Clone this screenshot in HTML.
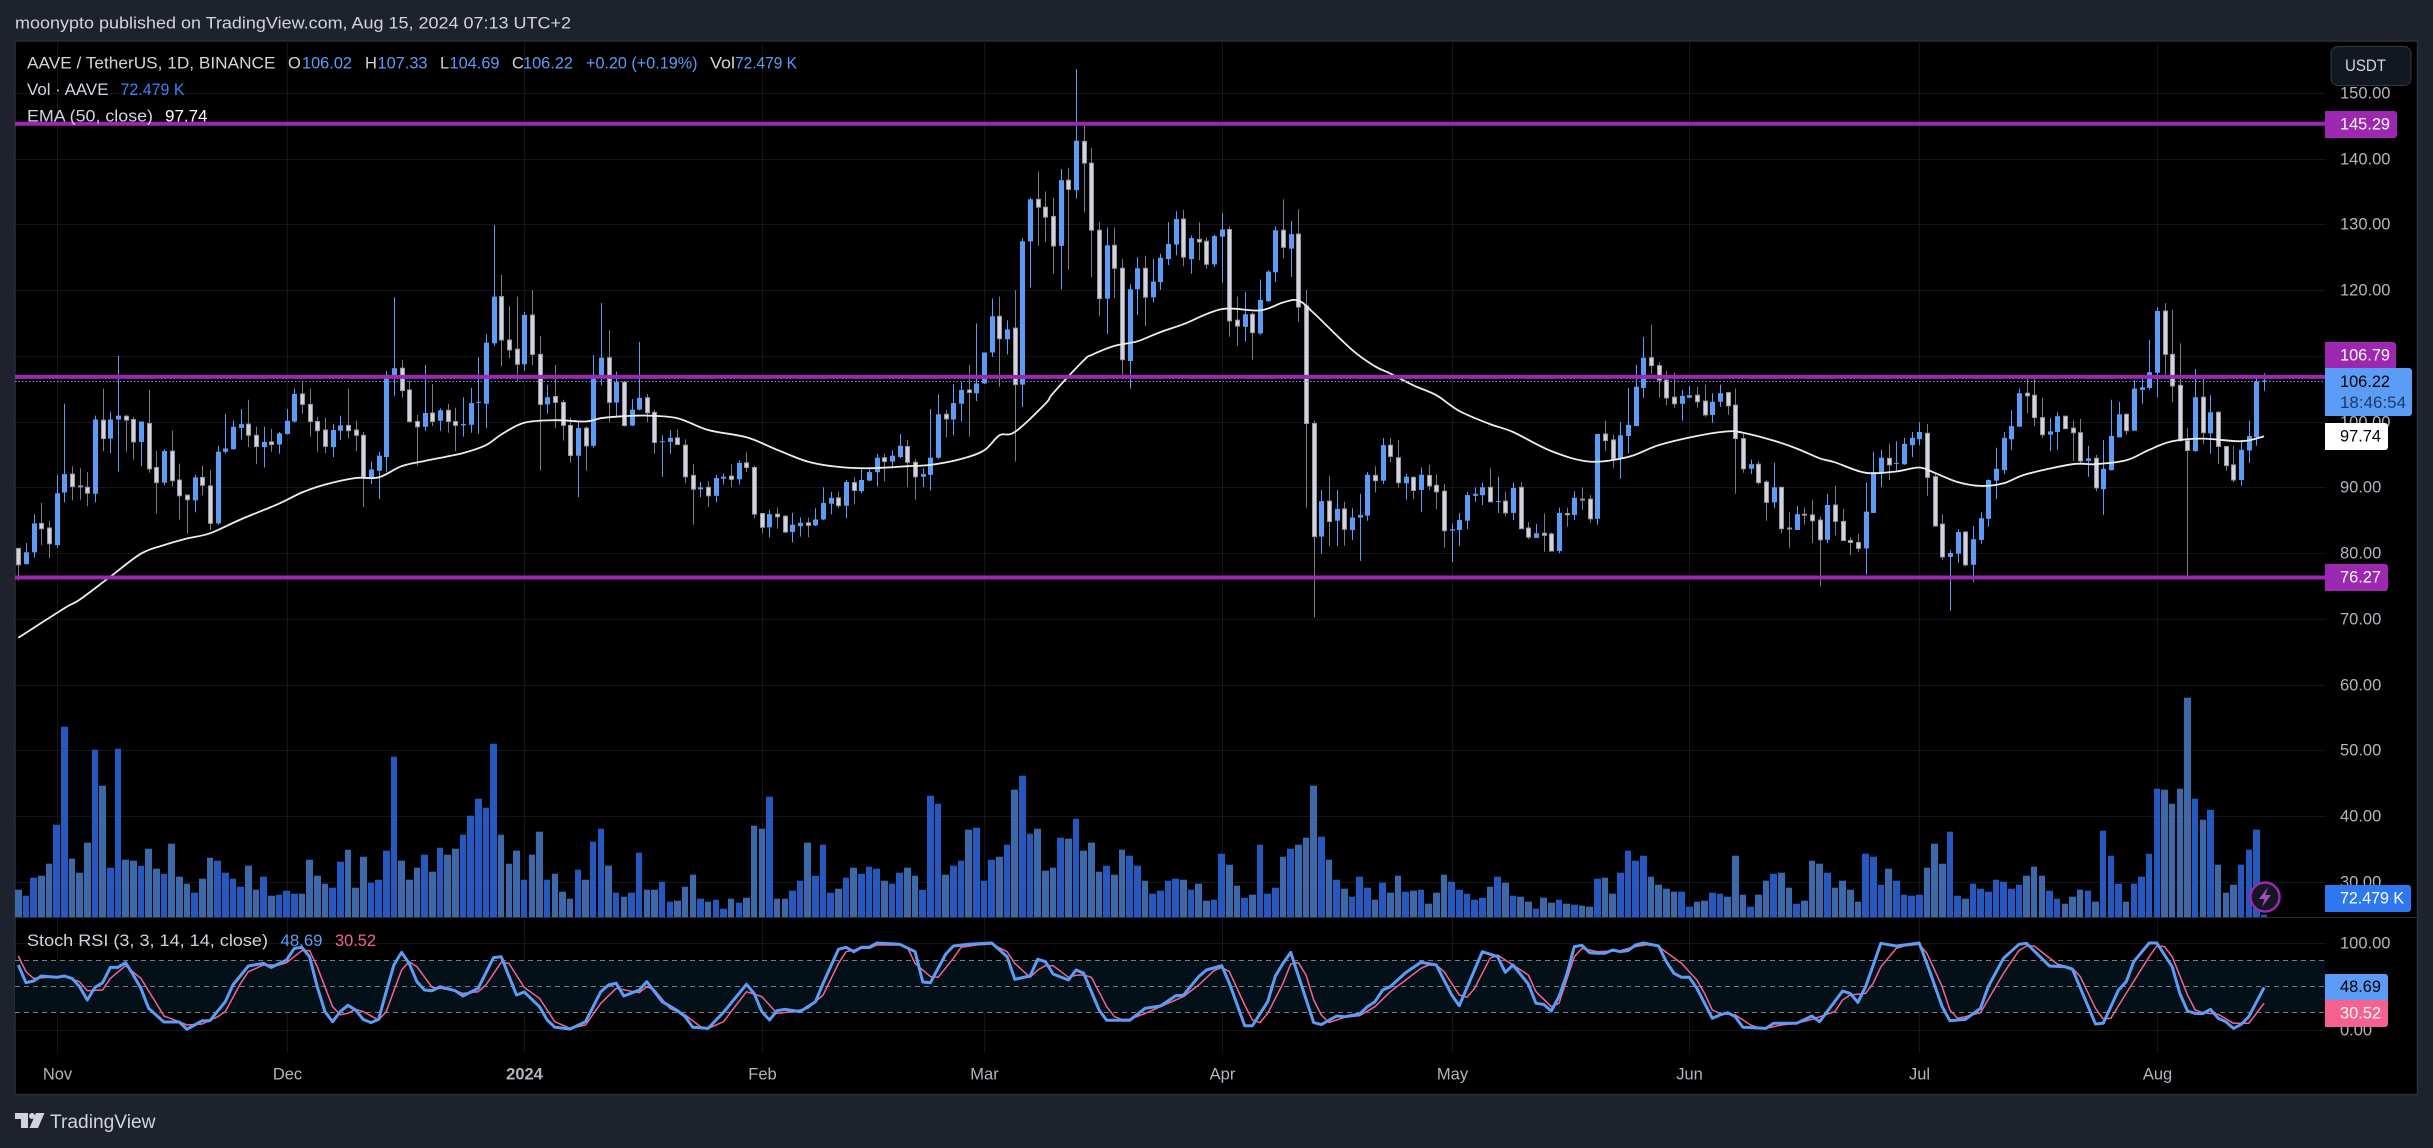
<!DOCTYPE html>
<html lang="en">
<head>
<meta charset="utf-8">
<title>AAVE / TetherUS chart</title>
<style>
html,body{margin:0;padding:0;background:#1e222d;width:2433px;height:1148px;overflow:hidden}
svg{display:block;font-family:"Liberation Sans",sans-serif}
</style>
</head>
<body>
<svg id="chart" xmlns="http://www.w3.org/2000/svg" width="2433" height="1148" viewBox="0 0 2433 1148">
  <rect x="0" y="0" width="2433" height="1148" fill="#1e222d"/>
  <text x="15" y="23" font-size="17" fill="#d1d4dc" dominant-baseline="central" textLength="556" lengthAdjust="spacingAndGlyphs">moonypto published on TradingView.com, Aug 15, 2024 07:13 UTC+2</text>
  <rect x="15" y="41" width="2402.5" height="1053.5" fill="#000000" stroke="#2a2e39" stroke-width="1.5"/>
  <g id="grid-layer"></g>
  <rect x="15" y="960.3" width="2310" height="52" fill="#031018"/>
  <g id="stoch-level-layer"></g>
  <g id="volume-layer"></g>
  <g id="candle-layer"></g>
  <path id="ema-line" fill="none" stroke="#ededed" stroke-width="1.8" stroke-linejoin="round"/>
  <g id="level-layer"></g>
  <polyline id="stoch-d" fill="none" stroke="#f7618f" stroke-width="1.5" stroke-linejoin="round"/>
  <polyline id="stoch-k" fill="none" stroke="#5b9cf6" stroke-width="3" stroke-linejoin="round"/>
  <line x1="15" y1="917.5" x2="2417" y2="917.5" stroke="#2a2e39" stroke-width="1"/>
  <g id="axis-layer"></g>

  <g><path d="M2325 111H2394a3 3 0 0 1 3 3V135a3 3 0 0 1-3 3H2325Z" fill="#9c27b0"/><text x="2340" y="124.5" font-size="16.5" fill="#ffffff" dominant-baseline="central" textLength="50" lengthAdjust="spacingAndGlyphs">145.29</text></g>
  <g><path d="M2325 342H2393a3 3 0 0 1 3 3V368H2325Z" fill="#9c27b0"/><text x="2340" y="355.5" font-size="16.5" fill="#ffffff" dominant-baseline="central" textLength="50" lengthAdjust="spacingAndGlyphs">106.79</text></g>
  <g><path d="M2325 368H2409a3 3 0 0 1 3 3V413a3 3 0 0 1-3 3H2325Z" fill="#5b9cf6"/><text x="2340" y="382" font-size="16.5" fill="#000000" dominant-baseline="central" textLength="50" lengthAdjust="spacingAndGlyphs">106.22</text><text x="2340" y="403" font-size="16.5" fill="#1c3a66" dominant-baseline="central" textLength="66" lengthAdjust="spacingAndGlyphs">18:46:54</text></g>
  <g><path d="M2325 423H2385a3 3 0 0 1 3 3V447a3 3 0 0 1-3 3H2325Z" fill="#ffffff"/><text x="2340" y="436.5" font-size="16.5" fill="#000000" dominant-baseline="central" textLength="41" lengthAdjust="spacingAndGlyphs">97.74</text></g>
  <g><path d="M2325 564H2385a3 3 0 0 1 3 3V588a3 3 0 0 1-3 3H2325Z" fill="#9c27b0"/><text x="2340" y="577.5" font-size="16.5" fill="#ffffff" dominant-baseline="central" textLength="41" lengthAdjust="spacingAndGlyphs">76.27</text></g>
  <g><path d="M2325 885H2408a3 3 0 0 1 3 3V909a3 3 0 0 1-3 3H2325Z" fill="#2f77f0"/><text x="2340" y="898.5" font-size="16.5" fill="#ffffff" dominant-baseline="central" textLength="64" lengthAdjust="spacingAndGlyphs">72.479 K</text></g>
  <g><path d="M2325 974H2385a3 3 0 0 1 3 3V1000H2325Z" fill="#5b9cf6"/><text x="2340" y="987" font-size="16.5" fill="#000000" dominant-baseline="central" textLength="41" lengthAdjust="spacingAndGlyphs">48.69</text></g>
  <g><path d="M2325 1000H2388V1024a3 3 0 0 1-3 3H2325Z" fill="#f7618f"/><text x="2340" y="1013.5" font-size="16.5" fill="#ffffff" dominant-baseline="central" textLength="41" lengthAdjust="spacingAndGlyphs">30.52</text></g>

  <g><rect x="2331" y="46.5" width="80" height="39" rx="7" fill="#131722" stroke="#363a45" stroke-width="1"/><text x="2345" y="66" font-size="16.5" fill="#d1d4dc" dominant-baseline="central" textLength="41" lengthAdjust="spacingAndGlyphs">USDT</text></g>

  <g><circle cx="2265" cy="897" r="14.5" fill="#131722" stroke="#9c27b0" stroke-width="2.5"/><path d="M2268 887L2259 899H2264.5L2262 907L2271 895H2265.5Z" fill="#ab47bc"/></g>

  <g font-size="16.5">
    <text x="27" y="63.5" fill="#d1d4dc" dominant-baseline="central" textLength="248.5" lengthAdjust="spacingAndGlyphs">AAVE / TetherUS, 1D, BINANCE</text>
    <text x="288" y="63.5" fill="#d1d4dc" dominant-baseline="central">O</text>
    <text x="302" y="63.5" fill="#5b9cf6" dominant-baseline="central" textLength="50" lengthAdjust="spacingAndGlyphs">106.02</text>
    <text x="365" y="63.5" fill="#d1d4dc" dominant-baseline="central">H</text>
    <text x="377.5" y="63.5" fill="#5b9cf6" dominant-baseline="central" textLength="50" lengthAdjust="spacingAndGlyphs">107.33</text>
    <text x="440" y="63.5" fill="#d1d4dc" dominant-baseline="central">L</text>
    <text x="449.5" y="63.5" fill="#5b9cf6" dominant-baseline="central" textLength="50" lengthAdjust="spacingAndGlyphs">104.69</text>
    <text x="512" y="63.5" fill="#d1d4dc" dominant-baseline="central">C</text>
    <text x="523" y="63.5" fill="#5b9cf6" dominant-baseline="central" textLength="50" lengthAdjust="spacingAndGlyphs">106.22</text>
    <text x="586" y="63.5" fill="#5b9cf6" dominant-baseline="central" textLength="111.5" lengthAdjust="spacingAndGlyphs">+0.20 (+0.19%)</text>
    <text x="710" y="63.5" fill="#d1d4dc" dominant-baseline="central" textLength="25" lengthAdjust="spacingAndGlyphs">Vol</text>
    <text x="735" y="63.5" fill="#5b9cf6" dominant-baseline="central" textLength="62" lengthAdjust="spacingAndGlyphs">72.479 K</text>
    <text x="27" y="90" fill="#d1d4dc" dominant-baseline="central" textLength="81.5" lengthAdjust="spacingAndGlyphs">Vol · AAVE</text>
    <text x="120.5" y="90" fill="#3b82f6" dominant-baseline="central" textLength="64" lengthAdjust="spacingAndGlyphs">72.479 K</text>
    <text x="27" y="116.5" fill="#d1d4dc" dominant-baseline="central" textLength="126" lengthAdjust="spacingAndGlyphs">EMA (50, close)</text>
    <text x="165" y="116.5" fill="#ffffff" dominant-baseline="central" textLength="42.5" lengthAdjust="spacingAndGlyphs">97.74</text>
    <text x="27" y="941" fill="#d1d4dc" dominant-baseline="central" textLength="241" lengthAdjust="spacingAndGlyphs">Stoch RSI (3, 3, 14, 14, close)</text>
    <text x="280.5" y="941" fill="#5b9cf6" dominant-baseline="central" textLength="42" lengthAdjust="spacingAndGlyphs">48.69</text>
    <text x="335" y="941" fill="#f7618f" dominant-baseline="central" textLength="41" lengthAdjust="spacingAndGlyphs">30.52</text>
  </g>

  <g>
    <path d="M15 1113H28V1128H21V1119H15Z" fill="#d1d4dc"/>
    <circle cx="32" cy="1116" r="3" fill="#d1d4dc"/>
    <path d="M36 1113H44.5L38 1128H29.5Z" fill="#d1d4dc"/>
    <text x="50" y="1122.5" font-size="19" fill="#d1d4dc" dominant-baseline="central" textLength="105.5" lengthAdjust="spacingAndGlyphs">TradingView</text>
  </g>
</svg>
<script>
const opens = [
80.7,78.3,80.1,84.5,83.8,81.2,89.2,92.0,90.2,90.0,
89.0,100.2,97.4,100.3,100.8,100.3,96.9,99.7,93.0,90.7,
95.5,91.1,88.8,88.0,91.5,90.2,84.5,95.4,95.8,99.0,
99.6,97.9,96.1,96.9,96.5,98.1,100.0,104.2,102.6,100.0,
98.7,96.1,98.6,99.4,98.7,97.9,91.4,92.5,94.6,106.9,
108.1,104.8,100.0,99.2,101.3,100.1,101.7,100.0,99.4,99.5,
102.9,102.7,111.9,119.0,112.4,111.0,108.7,116.2,110.2,102.6,
103.8,102.9,99.4,94.8,99.0,96.3,106.8,109.7,102.9,106.0,
99.4,101.8,103.6,101.4,96.9,96.9,97.5,96.4,91.8,89.7,
90.0,88.7,91.3,91.7,91.2,93.7,93.0,86.0,83.9,85.9,
85.6,83.2,84.1,84.6,84.2,85.1,87.5,88.4,87.2,90.7,
89.4,91.0,92.3,94.5,93.9,94.6,96.2,93.8,91.6,91.9,
94.5,101.1,100.3,102.7,104.8,104.3,105.8,110.5,116.0,112.5,
114.2,105.6,127.4,133.8,132.6,131.2,126.7,136.7,135.2,142.6,
139.3,129.1,118.7,126.8,123.3,109.2,120.1,123.3,118.9,121.2,
124.7,126.9,130.8,124.7,127.7,127.4,123.9,128.1,129.2,115.4,
114.4,116.3,113.4,118.3,122.7,129.1,126.3,128.5,117.6,99.7,
82.5,87.9,84.9,86.7,83.5,85.4,85.7,91.8,91.0,96.4,
94.5,90.6,91.5,89.6,91.8,90.3,89.4,83.4,83.5,84.9,
88.7,88.8,90.0,87.8,87.9,86.1,90.0,83.8,82.3,83.0,
82.9,80.3,86.0,85.8,88.2,88.2,85.2,98.1,97.2,94.3,
97.8,99.3,105.1,109.7,108.5,106.3,103.7,102.7,103.6,104.0,
103.1,101.0,103.0,104.4,102.5,97.4,92.8,93.5,90.8,87.7,
90.0,83.8,83.5,85.9,85.8,85.0,82.0,87.3,84.8,81.9,
81.6,80.7,86.1,92.1,94.4,93.6,93.5,96.4,97.3,98.2,
91.6,84.4,79.4,79.9,83.2,78.2,82.0,85.2,91.0,92.6,
97.3,99.2,104.3,104.0,100.6,98.0,98.4,100.8,99.0,98.3,
94.0,94.4,89.7,92.6,97.6,101.1,98.6,104.8,105.1,107.4,
116.8,110.2,105.5,97.1,95.5,103.7,98.2,101.4,96.2,93.4,
91.1,95.6,97.6,106.02];
const highs = [
80.7,81.5,85.9,87.6,84.9,91.9,102.7,93.2,92.9,92.3,
100.9,105.0,101.5,110.0,101.0,100.7,100.0,104.8,95.5,95.8,
98.6,93.6,88.9,91.9,93.3,92.6,96.3,101.2,100.1,101.9,
103.3,99.2,99.2,98.9,98.4,101.9,105.0,106.0,105.0,100.7,
100.6,99.6,100.9,105.0,100.1,98.4,93.9,95.4,107.7,118.9,
109.4,106.2,101.0,108.6,105.7,102.0,102.7,102.1,103.7,105.1,
109.8,113.3,129.9,122.3,117.5,119.0,116.7,120.0,113.0,105.6,
108.6,103.3,100.6,100.1,99.3,110.1,118.0,113.9,107.6,106.2,
103.4,112.1,104.2,101.8,97.9,98.7,98.8,97.3,93.5,90.8,
90.9,91.9,92.1,93.5,94.1,95.3,93.3,86.1,86.6,86.9,
85.8,86.1,85.4,85.4,86.8,90.0,89.3,89.3,91.1,91.5,
92.9,93.0,95.1,95.1,95.6,98.1,97.2,94.3,92.9,101.9,
104.1,101.7,105.7,106.0,108.6,114.9,110.5,118.7,119.0,115.4,
120.0,127.9,134.0,138.0,135.0,134.0,138.4,138.6,153.6,145.6,
141.6,130.3,129.5,129.5,124.7,120.9,125.0,125.2,124.7,125.5,
130.3,132.0,132.2,128.3,130.3,128.0,128.4,131.7,129.7,119.0,
119.7,116.6,121.6,123.0,129.7,133.8,130.5,132.3,120.0,100.1,
89.6,91.7,89.6,87.8,86.8,89.0,92.3,93.2,97.5,97.5,
97.2,92.0,91.7,93.0,93.4,91.9,90.5,84.5,86.1,89.3,
90.0,90.7,92.9,91.6,89.3,90.7,90.8,84.7,84.4,86.0,
83.1,86.9,86.9,89.4,90.0,88.8,98.1,100.1,98.0,99.9,
105.1,108.6,112.9,114.7,109.0,107.7,107.4,104.8,105.4,105.3,
105.6,104.3,105.6,104.5,105.0,98.1,94.2,94.0,91.1,93.7,
90.0,86.2,87.2,86.9,88.1,85.6,89.0,90.2,86.7,82.4,
82.9,90.7,95.4,95.7,96.6,97.0,97.5,98.4,99.9,99.6,
92.0,85.9,80.4,83.6,83.3,84.1,86.2,91.2,96.0,98.4,
101.7,105.0,106.8,106.8,103.6,100.5,101.4,100.9,100.2,100.4,
96.3,94.9,97.2,103.3,103.0,101.2,106.3,106.6,112.4,117.4,
118.0,117.0,111.9,99.0,108.0,106.6,104.0,101.6,96.3,96.3,
97.2,100.1,106.8,107.33];
const lows = [
75.8,78.2,79.3,81.2,79.2,80.8,87.7,88.0,88.1,87.1,
87.7,95.5,95.2,92.4,95.4,94.2,93.2,92.2,86.0,90.3,
90.1,85.1,83.0,86.2,88.8,83.5,84.3,95.1,95.7,97.2,
96.1,93.5,93.0,95.4,95.1,98.0,99.8,101.2,97.7,95.4,
95.2,94.6,97.2,97.4,95.5,87.0,90.5,88.2,92.3,103.9,
103.6,99.8,93.3,98.6,99.3,98.6,98.3,95.5,97.7,98.3,
98.1,99.0,111.5,108.4,109.6,106.1,107.7,108.6,92.5,101.2,
99.0,97.1,93.7,88.5,92.5,96.0,105.5,99.9,100.8,99.2,
99.3,101.7,99.9,95.1,91.6,95.1,96.5,90.6,84.3,88.5,
87.0,87.7,90.4,90.0,90.4,92.3,85.3,83.0,82.4,83.7,
83.0,81.6,82.5,82.4,84.1,85.0,85.9,86.8,85.3,87.4,
89.1,90.9,90.1,90.9,92.8,94.4,90.0,88.1,90.0,89.5,
94.3,97.6,97.9,100.0,97.7,103.1,105.7,109.8,105.3,110.2,
93.9,102.2,120.4,126.7,127.3,122.5,120.1,123.1,133.9,131.8,
122.0,116.0,113.3,118.8,107.1,105.0,116.2,114.5,118.1,120.0,
123.8,125.3,123.6,122.5,124.5,123.2,123.5,121.1,112.9,111.5,
112.2,109.4,113.2,118.2,121.2,124.8,122.0,115.2,86.9,70.2,
79.9,81.0,81.0,81.1,82.0,78.8,84.9,89.2,90.5,93.8,
89.9,88.1,88.2,86.2,89.6,86.7,80.8,78.6,81.1,83.6,
87.8,87.3,87.8,86.1,85.6,85.0,83.7,82.1,82.3,80.2,
80.2,80.0,84.0,85.0,86.5,84.6,84.3,95.5,92.9,91.3,
95.2,99.3,103.6,107.2,103.7,102.5,102.1,100.1,103.6,102.1,
100.7,99.8,102.2,101.0,89.0,92.2,92.0,90.4,84.9,86.8,
83.0,80.8,83.5,84.3,81.5,74.9,81.5,82.7,81.8,79.7,
80.2,76.7,86.1,90.0,91.1,92.6,93.4,94.6,96.4,88.7,
84.0,78.9,71.2,78.5,78.0,75.6,81.4,84.0,88.2,92.0,
95.7,99.2,101.3,99.3,97.5,95.5,95.7,98.9,94.0,93.6,
91.6,89.4,85.8,92.6,97.6,98.0,98.6,102.7,104.8,103.7,
107.1,103.0,96.9,76.2,95.4,96.6,95.1,93.5,92.5,90.8,
90.2,93.7,96.3,104.69];
const closes = [
78.2,80.1,84.5,83.7,81.4,89.1,92.0,90.1,90.1,89.1,
100.3,97.4,100.3,100.9,100.2,96.9,100.0,92.8,90.7,95.5,
91.0,88.7,88.1,91.5,90.3,84.5,95.4,95.9,99.2,99.6,
97.9,96.2,96.9,96.5,98.2,100.1,104.2,102.6,100.0,98.6,
96.2,98.7,99.4,98.6,97.9,91.6,92.7,94.8,107.1,108.1,
104.7,100.0,99.2,101.3,100.0,101.7,100.0,99.4,99.6,102.8,
103.0,112.0,119.0,112.4,110.9,108.7,116.2,110.2,102.6,103.7,
102.9,99.4,94.8,99.0,96.3,107.1,109.7,102.9,106.0,99.4,
101.8,103.6,101.3,96.8,97.0,97.5,96.5,91.6,89.7,90.0,
88.7,91.4,91.6,91.2,93.7,93.0,85.9,83.9,85.9,85.5,
83.2,84.3,84.6,84.2,85.1,87.6,88.4,87.2,90.8,89.5,
91.1,92.3,94.5,93.9,94.8,96.3,93.8,91.6,92.0,94.5,
101.1,100.4,102.8,104.8,104.4,105.8,110.5,116.0,112.6,114.0,
105.6,127.4,133.8,132.6,131.1,126.7,136.7,135.3,142.7,139.3,
129.1,118.7,126.8,123.3,109.4,120.1,123.3,118.9,121.3,124.9,
127.0,130.8,125.0,127.9,127.3,123.9,128.2,129.2,115.3,114.5,
116.3,113.5,118.5,122.8,129.1,126.5,128.5,117.4,99.7,82.5,
87.9,84.8,86.7,83.6,85.4,85.8,91.9,91.0,96.4,94.7,
90.7,91.6,89.5,91.9,90.2,89.3,83.4,83.6,85.0,88.8,
89.0,90.0,87.8,87.9,86.1,89.9,83.7,82.4,83.0,82.7,
80.3,86.1,85.8,88.4,88.1,85.2,98.1,97.1,94.3,97.9,
99.5,105.3,109.7,108.5,106.3,103.6,102.7,103.9,104.0,103.0,
101.0,103.0,104.3,102.4,97.4,92.8,93.5,90.7,87.7,90.0,
83.7,83.7,85.9,85.8,84.9,82.0,87.3,84.8,81.9,81.6,
80.7,86.3,92.3,94.5,93.4,93.7,96.6,97.5,98.4,91.5,
84.1,79.4,80.0,83.2,78.2,82.1,85.3,91.1,92.8,97.5,
99.3,104.3,103.9,100.6,98.0,98.5,100.8,98.9,98.3,94.0,
94.4,89.9,92.8,97.8,101.1,98.6,105.0,105.2,107.5,116.8,
110.2,105.4,97.1,95.6,103.7,98.3,101.4,96.2,93.3,91.1,
95.7,97.8,106.1,106.22];
const volumes = [
820,640,1180,1240,1600,2770,5710,1750,1330,2230,
5020,3940,1480,5050,1720,1690,1540,2050,1450,1300,
2200,1210,1000,730,1150,1780,1690,1330,1150,910,
1540,820,1210,640,670,790,700,700,1720,1240,
1000,880,1660,2020,880,1810,1030,1120,1990,4810,
1690,1120,1480,1870,1360,2080,1870,2050,2470,3040,
3550,3280,5200,2470,1600,1990,1120,1870,2560,1120,
1300,760,550,1420,1120,2260,2650,1540,730,610,
730,1930,820,820,1060,460,490,910,1270,550,
460,520,250,550,430,580,2740,2650,3610,550,
550,790,1090,2230,1240,2170,730,850,1180,1480,
1300,1510,1450,1090,1000,1330,1480,1240,820,3640,
3400,1270,1540,1690,2620,2680,1090,1720,1810,2170,
3820,4240,2500,2650,1390,1480,2380,2350,2950,1990,
2230,1360,1540,1270,2020,1840,1540,1090,700,790,
1090,1150,1120,820,1000,490,520,1900,1570,940,
580,670,2170,700,880,1810,2050,2170,2380,3940,
2410,1720,1120,850,610,1210,880,520,1030,730,
1240,760,790,820,400,730,1270,1060,820,700,
520,580,910,1210,1030,640,610,460,250,580,
430,520,400,370,340,310,1150,1180,700,1330,
1990,1690,1840,1210,970,850,760,760,310,460,
490,730,700,610,1840,670,310,670,1090,1300,
1330,880,400,490,1690,1600,1330,880,1090,820,
460,1900,1810,970,1450,1090,670,640,670,1480,
2200,1600,2560,640,550,1000,850,760,1120,1060,
850,970,1240,1510,1240,790,550,400,610,820,
790,460,2590,1840,1000,460,1000,1210,1900,3850,
3820,3400,3850,6580,3550,2920,3220,1570,730,970,
1570,2020,2620,72.479];
const emaBars = [
0,6,8,12,16,19,22,25,29,34,
37,40,44,47,50,53,58,61,63,66,
70,74,76,79,82,86,90,95,99,103,
107,111,116,119,123,126,128,130,134,135,
139,140,143,146,149,152,157,162,165,167,
169,174,177,179,182,185,188,192,195,200,
205,210,214,219,223,225,229,232,235,237,
241,245,248,250,253,256,259,262,268,271,
275,278,281,285,290,293];
const emaValues = [
67.1,71.6,72.9,76.4,79.9,81.2,82.2,83.0,85.1,87.5,
89.2,90.4,91.4,91.5,93.2,94.0,95.2,96.4,98.0,99.8,
100.2,100.0,100.5,100.8,100.9,100.5,98.7,97.6,95.7,93.9,
93.1,92.9,93.2,93.4,94.3,95.6,97.9,98.4,102.7,104.3,
109.3,110.1,111.5,112.2,113.6,114.8,117.1,116.9,118.1,118.4,
116.5,110.9,108.4,107.3,105.5,104.0,101.6,99.6,98.4,95.5,
93.9,94.6,96.4,97.8,98.5,98.3,97.1,95.9,94.4,93.8,
92.2,92.4,93.0,92.2,90.8,90.2,90.6,92.0,93.5,93.5,
94.1,95.7,97.0,97.4,97.0,97.74];
const kBars = [
0,1,2,3,5,6,7,8,9,10,
11,12,13,14,15,16,17,19,21,22,
24,25,27,28,30,32,33,35,36,37,
38,39,40,41,42,43,44,45,46,47,
48,49,50,51,52,53,54,55,57,58,
60,62,63,65,66,68,69,70,72,74,
76,77,78,79,81,82,84,86,87,88,
90,92,95,96,97,98,99,100,102,104,
105,107,108,109,110,111,112,115,117,118,
119,121,122,124,127,129,130,132,133,134,
135,137,138,139,141,142,145,147,149,151,
152,154,155,157,158,160,161,163,164,165,
166,169,170,172,173,175,176,177,178,179,
181,183,185,187,188,191,193,194,195,197,
198,199,200,201,202,203,204,205,206,207,
208,209,210,211,212,214,215,216,217,218,
219,221,222,223,224,225,228,229,232,234,
235,238,239,240,241,243,245,248,249,251,
252,254,256,257,259,261,262,265,267,268,
271,272,274,275,276,278,279,281,282,283,
284,285,286,287,288,289,290,291,293];
const kValues = [
74.6,54.2,56.2,61.9,60.4,61.9,59.2,49.6,34.2,48.8,
54.2,71.9,71.9,77.3,63.1,47.7,24.6,8.8,8.8,0.4,
10.4,10.4,32.3,51.5,73.5,76.5,71.9,80.4,93.8,95,
84.2,49.6,20.8,9.2,20.8,28.1,22.7,11.9,8.1,11.9,
43.8,74.6,89.2,76.5,55.4,45.8,45,49.6,45,38.8,
47.7,83.1,84.2,40,43.5,26.5,11.2,2.7,0.8,9.2,
43.8,51.5,53.5,38.8,45.8,55.4,32.3,21.9,15,2.7,
1.5,20,52.3,41.9,20.8,11.2,21.9,23.5,20.8,32.3,
53.5,92.7,95,90,95,95,100,98.5,90,55,
54.2,87.3,96.5,98.5,100,84.2,58.1,61.9,81.2,78.5,
64.2,57.3,68.8,65,22.7,10.8,10.8,24.6,27.3,39.2,
39.6,61.2,68.8,73.8,53.5,4.6,4.6,32.3,61.9,76.5,
89.2,8.1,5.8,15.8,15,18.1,26.5,32.3,45.8,49.6,
65.8,77.7,74.6,40,27.7,90,84.2,66.2,74.6,52.7,
30.4,29.2,21.5,38.1,63.1,95.8,97.3,88.8,88.1,88.1,
91.9,90,91.2,97.7,100,96.5,78.5,65,60.4,60.4,
47.7,13.1,16.9,19.6,15,2.7,1.5,7.3,7.3,15.8,
9.2,44.6,41.9,31.5,49.6,99.6,96.5,100,76.5,26.5,
10.4,11.9,24.6,49.6,82.3,98.5,99.6,73.5,72.7,69.6,
6.5,7.3,45.8,55.4,78.5,100,100,72.7,41.9,21.5,
18.8,18.5,23.5,13.1,9.2,1.5,6.2,15,48.69];
const dBars = [
0,1,2,4,6,8,9,11,12,14,
16,18,19,21,22,24,26,27,29,30,
32,34,35,37,38,39,41,42,43,44,
45,47,48,50,51,52,54,55,57,58,
60,61,63,64,66,68,70,72,74,76,
78,81,82,83,85,87,89,90,92,94,
95,97,99,101,103,105,107,108,110,111,
112,115,116,117,119,120,122,123,125,127,
129,130,132,133,134,135,137,138,139,140,
142,143,144,145,147,149,152,154,156,157,
158,160,161,162,163,165,166,167,168,169,
170,171,173,175,177,179,181,183,184,185,
186,188,189,190,192,193,195,197,198,200,
201,203,204,205,206,209,211,213,214,217,
218,219,220,221,222,224,226,227,228,230,
232,234,237,238,239,241,242,243,245,246,
248,249,251,252,253,254,256,259,261,262,
263,266,268,269,271,272,273,275,278,279,
280,281,283,284,285,287,289,291,293];
const dValues = [
85,66.9,59.2,60.4,61.2,55.4,45,45.8,59.2,73.8,
59.2,30.4,15.8,9.2,5.4,6.5,15,20.8,53.5,66.9,
74.6,74.6,77.3,91.2,91.2,72.7,26.5,17.3,18.8,23.5,
20.8,11.2,20.8,68.8,78.5,72.7,48.8,47.7,45,41.9,
43.8,51.5,77.7,76.5,48.8,36.2,9.2,1.5,5.4,30.4,
47.7,42.7,49.6,45.8,24.6,16.9,3.5,1.5,9.2,32.3,
43.8,38.1,18.8,20.8,24.6,40,76.5,90,93.8,93.8,
97.7,97.7,95,76.5,61.2,60.4,82.3,95,97.7,98.8,
90,76.5,60.4,68.8,73.8,73.8,60.4,62.7,63.1,60.4,
26.5,15,11.9,11.9,18.8,26.5,38.1,51.5,68.1,71.9,
66.9,28.5,11.2,8.1,18.8,53.5,75.8,77.3,63.1,34.2,
16.9,8.1,14.2,16.2,26.5,43.8,57.3,70.8,74.6,74.6,
66.9,40,37.3,47.7,82.3,86.2,74.6,63.1,43.8,26.5,
30.4,84.2,93.8,91.9,90,91.2,95.8,98.8,95.8,76.5,
66.9,57.3,41.9,22.7,18.8,16.9,5.4,2.3,1.5,5.4,
7.3,11.9,20.8,34.2,40,41.9,53.5,72.7,93.8,96.5,
98.5,88.1,49.6,22.7,13.1,15,19.6,65,91.2,96.5,
96.5,75.8,70.8,61.2,24.6,12.3,13.1,41.9,84.2,96.5,
95.8,84.2,40,22.7,19.6,17.7,7.3,7.3,30.52];
const levelPrices = [145.29, 106.79, 76.27];
const lastPrice = 106.22;
const priceTicks = [150,140,130,120,110,100,90,80,70,60,50,40,30];
const stochTicks = [100,0];
const stochLevels = [80,50,20];
const monthLabels = ["Nov","Dec","2024","Feb","Mar","Apr","May","Jun","Jul","Aug"];
const monthBars = [5,35,66,97,126,157,187,218,248,279];

const NS = "http://www.w3.org/2000/svg";
const xBar = i => 18.3 + 7.665 * i;
const yPrice = p => 290 + (120 - p) * 6.575;
const yVolume = v => 917 - v / 30;
const yStoch = s => 1029.67 - s * 0.8667;

function mk(tag, parent) {
  const node = document.createElementNS(NS, tag);
  parent.appendChild(node);
  return node;
}
function pts(bars, values, yFn) {
  return bars.map((b, i) => xBar(b).toFixed(1) + "," + yFn(values[i]).toFixed(1)).join(" ");
}
function smoothPath(bars, values, yFn) {
  const p = bars.map((b, i) => [xBar(b), yFn(values[i])]);
  let d = "M" + p[0][0].toFixed(1) + " " + p[0][1].toFixed(1);
  for (let i = 0; i < p.length - 1; i++) {
    const a = p[Math.max(i - 1, 0)], b = p[i], c = p[i + 1], e = p[Math.min(i + 2, p.length - 1)];
    const c1x = b[0] + (c[0] - a[0]) / 6, c1y = b[1] + (c[1] - a[1]) / 6;
    const c2x = c[0] - (e[0] - b[0]) / 6, c2y = c[1] - (e[1] - b[1]) / 6;
    d += "C" + c1x.toFixed(1) + " " + c1y.toFixed(1) + " " + c2x.toFixed(1) + " " + c2y.toFixed(1) + " " + c[0].toFixed(1) + " " + c[1].toFixed(1);
  }
  return d;
}

const gridLayer = document.getElementById("grid-layer");
const axisLayer = document.getElementById("axis-layer");
const GRID = "#14161a";

priceTicks.forEach(t => {
  const y = Math.round(yPrice(t)) + 0.5;
  const el = mk("line", gridLayer);
  
  
  el.setAttribute("x1", 15); el.setAttribute("x2", 2325);
  el.setAttribute("y1", y); el.setAttribute("y2", y);
  el.setAttribute("stroke", GRID);
  const lab = mk("text", axisLayer);
  
  
  lab.setAttribute("x", 2340); lab.setAttribute("y", y);
  lab.setAttribute("font-size", "16.5");
  lab.setAttribute("fill", "#b2b5be");
  lab.setAttribute("dominant-baseline", "central");
  lab.textContent = t.toFixed(2);
});
stochTicks.forEach(t => {
  const y = Math.round(yStoch(t)) + 0.5;
  const el = mk("line", gridLayer);
  
  
  el.setAttribute("x1", 15); el.setAttribute("x2", 2325);
  el.setAttribute("y1", y); el.setAttribute("y2", y);
  el.setAttribute("stroke", GRID);
  const lab = mk("text", axisLayer);
  
  
  lab.setAttribute("x", 2340); lab.setAttribute("y", y);
  lab.setAttribute("font-size", "16.5");
  lab.setAttribute("fill", "#b2b5be");
  lab.setAttribute("dominant-baseline", "central");
  lab.textContent = t.toFixed(2);
});
monthBars.forEach((b, i) => {
  const x = Math.round(xBar(b)) + 0.5;
  const el = mk("line", gridLayer);
  
  
  el.setAttribute("x1", x); el.setAttribute("x2", x);
  el.setAttribute("y1", 41); el.setAttribute("y2", 1053);
  el.setAttribute("stroke", GRID);
  const lab = mk("text", axisLayer);
  
  
  lab.setAttribute("x", x); lab.setAttribute("y", 1074.5);
  lab.setAttribute("font-size", "16.5");
  lab.setAttribute("text-anchor", "middle");
  lab.setAttribute("fill", "#b2b5be");
  lab.setAttribute("dominant-baseline", "central");
  if (monthLabels[i] === "2024") lab.setAttribute("font-weight", "bold");
  lab.textContent = monthLabels[i];
});

const stochLevelLayer = document.getElementById("stoch-level-layer");
stochLevels.forEach(s => {
  const el = mk("line", stochLevelLayer);
  
  
  const y = Math.round(yStoch(s)) + 0.5;
  el.setAttribute("x1", 15); el.setAttribute("x2", 2325);
  el.setAttribute("y1", y); el.setAttribute("y2", y);
  el.setAttribute("stroke", "#787b86");
  el.setAttribute("stroke-dasharray", "5 4");
});

const volumeLayer = document.getElementById("volume-layer");
volumes.forEach((v, i) => {
  const up = closes[i] >= opens[i];
  const el = mk("rect", volumeLayer);
  
  
  const top = yVolume(v);
  const xc = xBar(i);
  const left = Math.round(xc - 3.3);
  el.setAttribute("x", left);
  el.setAttribute("y", top.toFixed(1));
  el.setAttribute("width", Math.round(xc + 3.3) - left);
  el.setAttribute("height", (917 - top).toFixed(1));
  el.setAttribute("fill", up ? "#2559bd" : "#3c69aa");
});

const candleLayer = document.getElementById("candle-layer");
opens.forEach((o, i) => {
  const c = closes[i];
  const up = c >= o;
  const rx = Math.round(xBar(i));
  const wick = mk("line", candleLayer);
  
  
  wick.setAttribute("x1", rx + 0.5); wick.setAttribute("x2", rx + 0.5);
  wick.setAttribute("y1", yPrice(highs[i]).toFixed(1));
  wick.setAttribute("y2", yPrice(lows[i]).toFixed(1));
  wick.setAttribute("stroke", up ? "#5b9cf6" : "#787b86");
  const body = mk("rect", candleLayer);
  
  
  const t = yPrice(Math.max(o, c));
  const h = Math.max(yPrice(Math.min(o, c)) - t, 1);
  if (up) {
    body.setAttribute("x", rx - 2);
    body.setAttribute("width", 5);
    body.setAttribute("y", t.toFixed(1));
    body.setAttribute("height", h.toFixed(1));
    body.setAttribute("fill", "#5b9cf6");
  } else {
    body.setAttribute("x", rx - 1.5);
    body.setAttribute("width", 4);
    body.setAttribute("y", t.toFixed(1));
    body.setAttribute("height", h.toFixed(1));
    body.setAttribute("fill", "#d1d4dc");
    body.setAttribute("stroke", "#9598a1");
  }
});

document.getElementById("ema-line").setAttribute("d", smoothPath(emaBars, emaValues, yPrice));
document.getElementById("stoch-k").setAttribute("points", pts(kBars, kValues, yStoch));
document.getElementById("stoch-d").setAttribute("points", pts(dBars, dValues, yStoch));

const levelLayer = document.getElementById("level-layer");
levelPrices.forEach(p => {
  const el = mk("line", levelLayer);
  
  
  const y = yPrice(p).toFixed(1);
  el.setAttribute("x1", 15); el.setAttribute("x2", 2325);
  el.setAttribute("y1", y); el.setAttribute("y2", y);
  el.setAttribute("stroke", "#9c27b0");
  el.setAttribute("stroke-width", "4");
});
const priceLine = mk("line", levelLayer);


const lastY = Math.round(yPrice(lastPrice)) + 0.5;
priceLine.setAttribute("x1", 15); priceLine.setAttribute("x2", 2325);
priceLine.setAttribute("y1", lastY); priceLine.setAttribute("y2", lastY);
priceLine.setAttribute("stroke", "#5b9cf6");
priceLine.setAttribute("stroke-dasharray", "1.5 2");
</script>
</body>
</html>
